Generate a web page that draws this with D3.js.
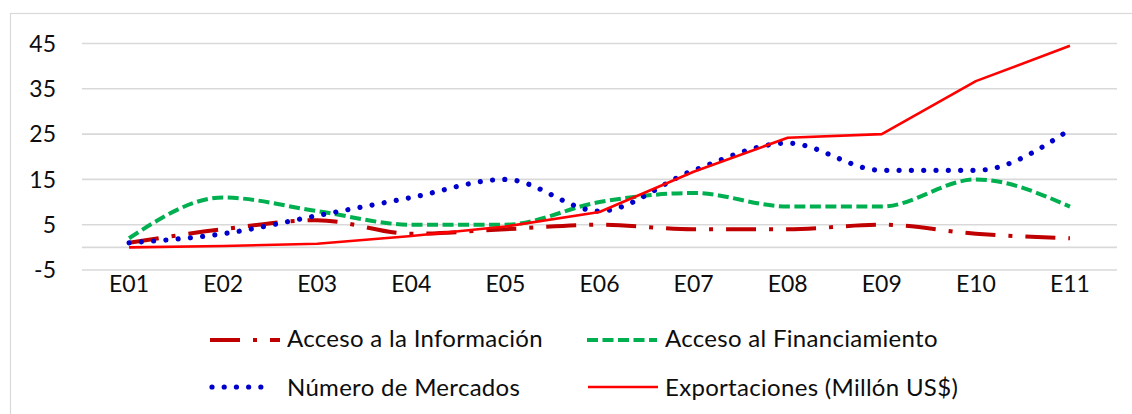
<!DOCTYPE html>
<html>
<head>
<meta charset="utf-8">
<script src="https://cdn.jsdelivr.net/npm/d3@7"></script>
<style>
  html, body { margin: 0; padding: 0; background: #fff; }
  svg { display: block; }
  text { font-family: Lato, "Open Sans", sans-serif; fill: #0d0d0d; }
</style>
</head>
<body>
<svg id="chart" width="1132" height="414"></svg>
<script>
// Categories along the horizontal axis
const categories = ["E01", "E02", "E03", "E04", "E05", "E06", "E07", "E08", "E09", "E10", "E11"];

// Series values, one per category
const accesoInformacion    = [1, 4, 6, 3, 4, 5, 4, 4, 5, 3, 2];
const accesoFinanciamiento = [2, 11, 8, 5, 5, 10, 12, 9, 9, 15, 9];
const numeroMercados       = [1, 3, 7, 11, 15, 8, 17, 23, 17, 17, 26];
const exportaciones        = [0, 0.3, 0.8, 2.5, 4.6, 7.8, 16.7, 24.2, 25, 36.7, 44.5];

// Value axis tick labels
const yTicks = [-5, 5, 15, 25, 35, 45];

// Series names shown in the legend
const seriesNames = [
  "Acceso a la Información",
  "Acceso al Financiamiento",
  "Número de Mercados",
  "Exportaciones (Millón US$)"
];

const svg = d3.select("#chart");

// Outer chart frame
svg.append("rect")
  .attr("x", 10.5).attr("y", 13.5)
  .attr("width", 1140).attr("height", 420)
  .attr("fill", "none")
  .attr("stroke", "#d9d9d9")
  .attr("stroke-width", 1.2);

const x = d3.scaleBand().domain(categories).range([82, 1117]);
const y = d3.scaleLinear().domain([-5, 45]).range([270, 43.5]);
const cx = d => x(d) + x.bandwidth() / 2;

// Horizontal gridlines
svg.append("g")
  .selectAll("line")
  .data(yTicks)
  .join("line")
  .attr("x1", x.range()[0]).attr("x2", x.range()[1])
  .attr("y1", d => y(d)).attr("y2", d => y(d))
  .attr("stroke", "#d9d9d9")
  .attr("stroke-width", 1.6);

// Category axis line at zero
svg.append("line")
  .attr("x1", x.range()[0]).attr("x2", x.range()[1])
  .attr("y1", y(0)).attr("y2", y(0))
  .attr("stroke", "#d9d9d9")
  .attr("stroke-width", 1.6);

// Value axis labels
svg.append("g")
  .selectAll("text")
  .data(yTicks)
  .join("text")
  .attr("x", 56)
  .attr("y", d => y(d))
  .attr("dy", "0.36em")
  .attr("text-anchor", "end")
  .attr("font-size", 23)
  .text(d => d);

// Category labels
svg.append("g")
  .selectAll("text")
  .data(categories)
  .join("text")
  .attr("x", d => cx(d))
  .attr("y", 292)
  .attr("text-anchor", "middle")
  .attr("font-size", 23)
  .text(d => d);

// Line styles per series
const styles = [
  { values: accesoInformacion,    color: "#c00000", width: 4,   dash: "30 13 4 13", cap: "butt",  curve: d3.curveMonotoneX },
  { values: accesoFinanciamiento, color: "#00b050", width: 4,   dash: "11 4.5",     cap: "butt",  curve: d3.curveMonotoneX },
  { values: numeroMercados,       color: "#0000cc", width: 5.2, dash: "0.01 12.3",  cap: "round", curve: d3.curveMonotoneX },
  { values: exportaciones,        color: "#ff0000", width: 2.6, dash: null,         cap: "butt",  curve: d3.curveLinear }
];

const plot = svg.append("g");
styles.forEach(s => {
  const line = d3.line()
    .x((d, i) => cx(categories[i]))
    .y(d => y(d))
    .curve(s.curve);
  plot.append("path")
    .datum(s.values)
    .attr("d", line)
    .attr("fill", "none")
    .attr("stroke", s.color)
    .attr("stroke-width", s.width)
    .attr("stroke-dasharray", s.dash)
    .attr("stroke-linecap", s.cap)
    .attr("stroke-linejoin", "round");
});

// Legend: two rows, two columns
const legendPos = [
  { lx: 210, ly: 340, tx: 287, ty: 347 },
  { lx: 587, ly: 340, tx: 665, ty: 347 },
  { lx: 212, ly: 387, tx: 287, ty: 396 },
  { lx: 588, ly: 387, tx: 665, ty: 396 }
];
const legend = svg.append("g");
seriesNames.forEach((name, i) => {
  const s = styles[i], p = legendPos[i];
  const len = i === 2 ? 61 : 70;
  legend.append("line")
    .attr("x1", p.lx).attr("x2", p.lx + len)
    .attr("y1", p.ly).attr("y2", p.ly)
    .attr("stroke", s.color)
    .attr("stroke-width", s.width)
    .attr("stroke-dasharray", i === 2 ? "0.01 12.2" : s.dash)
    .attr("stroke-linecap", s.cap);
  legend.append("text")
    .attr("x", p.tx).attr("y", p.ty)
    .attr("font-size", 24)
    .attr("letter-spacing", 0.3)
    .text(name);
});
</script>
</body>
</html>
